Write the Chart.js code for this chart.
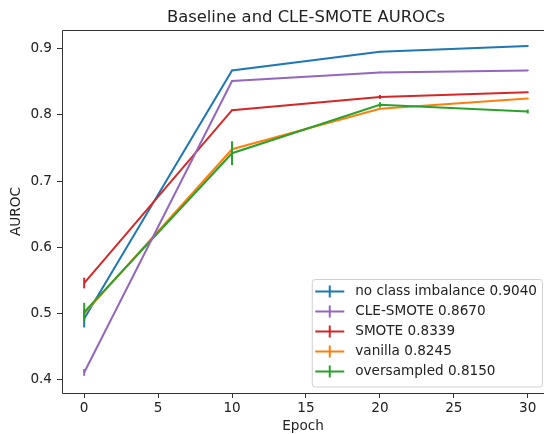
<!DOCTYPE html>
<html>
<head>
<meta charset="utf-8">
<script src="https://cdn.jsdelivr.net/npm/chart.js@4/dist/chart.umd.min.js"></script>
<style>
  body { margin: 0; background: #fff; }
  #wrap { width: 544px; height: 434px; }
</style>
</head>
<body>
<div id="wrap"><canvas id="aurocChart"></canvas></div>
<script>
// Data
const epochs = [0, 10, 20, 30];
const xTicks = [0, 5, 10, 15, 20, 25, 30];
const yTicks = [0.4, 0.5, 0.6, 0.7, 0.8, 0.9];

const seriesLabels = [
  "no class imbalance 0.9040",
  "CLE-SMOTE 0.8670",
  "SMOTE 0.8339",
  "vanilla 0.8245",
  "oversampled 0.8150"
];
const seriesColors = ["#1f77b4", "#9467bd", "#d62728", "#ff7f0e", "#2ca02c"];

const noImbalance = [0.492, 0.867, 0.895, 0.904];
const noImbalanceErr = [0.013, 0.001, 0.001, 0.001];
const cleSmote = [0.411, 0.851, 0.864, 0.867];
const cleSmoteErr = [0.005, 0.001, 0.001, 0.001];
const smote = [0.546, 0.807, 0.827, 0.834];
const smoteErr = [0.008, 0.001, 0.003, 0.001];
const vanilla = [0.500, 0.748, 0.809, 0.8245];
const vanillaErr = [0.001, 0.003, 0.001, 0.001];
const oversampled = [0.502, 0.742, 0.815, 0.805];
const oversampledErr = [0.014, 0.018, 0.004, 0.003];

const seriesValues = [noImbalance, cleSmote, smote, vanilla, oversampled];
const seriesErrors = [noImbalanceErr, cleSmoteErr, smoteErr, vanillaErr, oversampledErr];
// matplotlib drew these in color order C0..C4, last one on top
const drawOrder = [5, 1, 2, 4, 3];

const titleText = "Baseline and CLE-SMOTE AUROCs";
const FONT = "'DejaVu Sans', sans-serif";
const INK = "#222";
const TICK_SIZE = 13.6;

// vertical error bars, through the chart's scales
const errorBars = {
  id: "errorBars",
  afterDatasetsDraw(chart) {
    const ctx = chart.ctx;
    const xs = chart.scales.x, ys = chart.scales.y;
    ctx.save();
    chart.data.datasets.forEach(ds => {
      ctx.strokeStyle = ds.borderColor;
      ctx.lineWidth = 2;
      ds.errors.forEach((e, j) => {
        const x = xs.getPixelForValue(epochs[j]);
        ctx.beginPath();
        ctx.moveTo(x, ys.getPixelForValue(ds.data[j].y - e));
        ctx.lineTo(x, ys.getPixelForValue(ds.data[j].y + e));
        ctx.stroke();
      });
    });
    ctx.restore();
  }
};

// matplotlib-like spines and title (right spine is cropped off in the reference)
const frame = {
  id: "frame",
  afterDraw(chart) {
    const { ctx, chartArea: a } = chart;
    ctx.save();
    ctx.strokeStyle = "#333";
    ctx.lineWidth = 1;
    ctx.beginPath();
    ctx.moveTo(a.right, a.top + 0.5);
    ctx.lineTo(a.left + 0.5, a.top + 0.5);
    ctx.lineTo(a.left + 0.5, a.bottom + 0.5);
    ctx.lineTo(a.right, a.bottom + 0.5);
    ctx.stroke();

    // title centred over the full (uncropped) axes
    const axesRight = chart.scales.x.getPixelForValue(31.5);
    ctx.fillStyle = INK;
    ctx.font = "16.4px " + FONT;
    ctx.textAlign = "center";
    ctx.textBaseline = "alphabetic";
    ctx.fillText(titleText, (a.left + axesRight) / 2, 21.5);
    ctx.restore();
  }
};

// legend box in the lower right of the plot
const innerLegend = {
  id: "innerLegend",
  afterDraw(chart) {
    const { ctx, chartArea: a } = chart;
    const rowH = 20;
    ctx.save();
    ctx.font = TICK_SIZE + "px " + FONT;
    const textW = Math.max(...seriesLabels.map(t => ctx.measureText(t).width));
    const w = 3.5 + 29 + 11 + textW + 5;
    const h = 12.5 + rowH * 4 + 15;
    const right = a.right - 2, bottom = a.bottom - 6.5;
    const left = right - w, top = bottom - h;

    ctx.fillStyle = "rgba(255,255,255,0.85)";
    ctx.strokeStyle = "#d0d0d0";
    ctx.lineWidth = 1;
    ctx.beginPath();
    ctx.roundRect(left + 0.5, top + 0.5, w, h, 3);
    ctx.fill();
    ctx.stroke();

    seriesLabels.forEach((label, i) => {
      const cy = top + 12.5 + i * rowH;
      const mx = left + 3.5;
      ctx.strokeStyle = seriesColors[i];
      ctx.lineWidth = 2;
      ctx.beginPath();
      ctx.moveTo(mx, cy);
      ctx.lineTo(mx + 29, cy);
      ctx.moveTo(mx + 14.5, cy - 6);
      ctx.lineTo(mx + 14.5, cy + 6);
      ctx.stroke();
      ctx.fillStyle = INK;
      ctx.textBaseline = "middle";
      ctx.fillText(label, mx + 29 + 11, cy);
    });
    ctx.restore();
  }
};

const datasets = seriesLabels.map((label, i) => ({
  label: label,
  data: epochs.map((e, j) => ({ x: e, y: seriesValues[i][j] })),
  errors: seriesErrors[i],
  borderColor: seriesColors[i],
  backgroundColor: seriesColors[i],
  borderWidth: 2,
  pointRadius: 0,
  tension: 0,
  order: drawOrder[i]
}));

new Chart(document.getElementById("aurocChart"), {
  type: "line",
  data: { datasets: datasets },
  options: {
    responsive: true,
    maintainAspectRatio: false,
    animation: false,
    layout: { padding: { top: 30, left: 0, right: 0, bottom: 0 } },
    plugins: {
      legend: { display: false },
      tooltip: { enabled: false },
      title: { display: false }
    },
    scales: {
      x: {
        type: "linear",
        min: -1.5,
        max: 31.1,
        afterBuildTicks: s => { s.ticks = xTicks.map(v => ({ value: v })); },
        afterFit: s => { s.height = 41; },
        grid: { drawOnChartArea: false, color: "#333", tickLength: 5 },
        border: { display: false },
        ticks: { color: INK, font: { family: FONT, size: TICK_SIZE }, padding: 2, maxRotation: 0 },
        title: {
          display: true, text: "Epoch", color: INK,
          font: { family: FONT, size: TICK_SIZE }, padding: { top: 0, bottom: -1 }
        }
      },
      y: {
        min: 0.38,
        max: 0.928,
        afterBuildTicks: s => { s.ticks = yTicks.map(v => ({ value: v })); },
        afterFit: s => { s.width = 62; },
        grid: { drawOnChartArea: false, color: "#333", tickLength: 5 },
        border: { display: false },
        ticks: {
          color: INK, font: { family: FONT, size: TICK_SIZE }, padding: 5,
          callback: v => v.toFixed(1)
        },
        title: {
          display: true, text: "AUROC", color: INK,
          font: { family: FONT, size: TICK_SIZE }, padding: { top: 8, bottom: 0 }
        }
      }
    }
  },
  plugins: [errorBars, frame, innerLegend]
});
</script>
</body>
</html>
